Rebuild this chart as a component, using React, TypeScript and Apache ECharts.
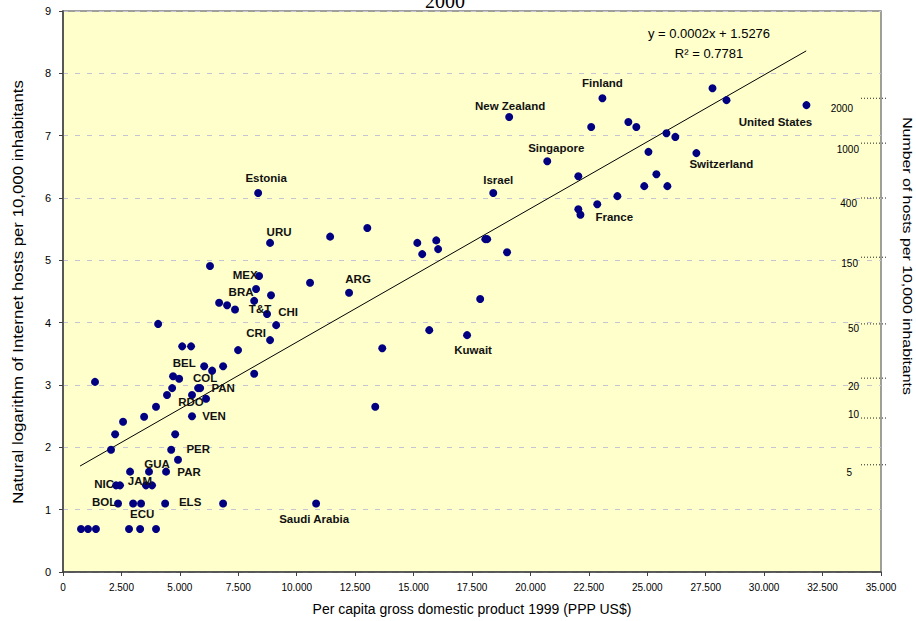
import React, { useEffect, useRef } from "react";
import * as echarts from "echarts";

// GDP per capita 1999 (PPP US$)
const gdp = [
  770, 1070, 1410, 2825, 3300, 3980,
  2355, 3000, 3340, 4370, 6850, 10830,
  2270, 2440, 3550, 3810,
  2870, 3680, 4410, 4630, 4920, 2055,
  2230, 2570, 3470, 3980, 4450, 4670, 4710, 4970, 4800, 1370,
  4070, 5100, 5480, 5520, 5520, 5780, 5870, 6120, 6040, 6380,
  6850, 7490, 8180, 8860, 9120, 8730, 8180, 8900, 8260, 6680,
  7020, 7360, 6290, 8390, 8350, 8860, 11430, 13020, 10570, 12240,
  15160, 15370, 15970, 16050, 18070, 18150, 19000, 17850, 15670, 17290,
  13660, 13360, 23080, 22600, 24190, 24530, 27790, 28390, 31810, 25820,
  26200, 25050, 27100, 20720, 22050, 25390, 24870, 25860, 23720, 22860,
  22050, 22140, 19090, 18410,
];
// Natural log of Internet hosts per 10,000 inhabitants
const lnHosts = [
  0.69, 0.69, 0.69, 0.69, 0.69, 0.69,
  1.10, 1.10, 1.10, 1.10, 1.10, 1.10,
  1.39, 1.39, 1.39, 1.39,
  1.61, 1.61, 1.61, 1.96, 1.80, 1.96,
  2.21, 2.41, 2.49, 2.65, 2.84, 2.95, 3.14, 3.10, 2.21, 3.05,
  3.98, 3.62, 3.62, 2.50, 2.84, 2.95, 2.95, 2.78, 3.30, 3.23,
  3.30, 3.56, 3.18, 3.72, 3.96, 4.14, 4.35, 4.44, 4.54, 4.32,
  4.28, 4.21, 4.91, 4.75, 6.08, 5.28, 5.38, 5.52, 4.64, 4.48,
  5.28, 5.10, 5.32, 5.18, 5.34, 5.34, 5.13, 4.38, 3.88, 3.80,
  3.59, 2.65, 7.60, 7.14, 7.22, 7.14, 7.76, 7.57, 7.49, 7.04,
  6.98, 6.74, 6.72, 6.59, 6.35, 6.38, 6.19, 6.19, 6.03, 5.90,
  5.82, 5.73, 7.30, 6.08,
];
// Country labels ('' = unlabeled)
const countryNames = [
  "", "", "", "", "", "",
  "BOL", "ECU", "", "ELS", "", "Saudi Arabia",
  "NIC", "", "JAM", "",
  "", "GUA", "PAR", "PER", "", "",
  "", "", "", "", "", "", "", "", "", "",
  "", "", "", "VEN", "", "COL", "PAN", "RDO", "BEL", "",
  "", "", "", "CRI", "CHI", "T&T", "", "", "BRA", "",
  "", "", "", "MEX", "Estonia", "URU", "", "", "", "ARG",
  "", "", "", "", "", "", "", "", "", "Kuwait",
  "", "", "Finland", "", "", "", "", "", "United States", "",
  "", "", "Switzerland", "Singapore", "", "", "", "", "", "France",
  "", "", "New Zealand", "Israel",
];
// Trend line end points
const trendX = [730, 31800];
const trendY = [1.7, 8.36];
const equationText = "y = 0.0002x + 1.5276";
const r2Text = "R² = 0.7781";
const xTitle = "Per capita gross domestic product 1999 (PPP US$)";
const yTitle = "Natural logarithm of Internet hosts per 10,000 inhabitants";
const y2Title = "Number of hosts per 10,000 inhabitants";
// Secondary scale (hosts per 10,000 inhabitants) and its ln position
const hostTickLabels = ["2000", "1000", "400", "150", "50", "20", "10", "5"];
const hostTickLn = [7.6, 6.88, 6.0, 5.05, 3.98, 3.11, 2.47, 1.72];

// label placement (pixels)
const labelOffsets: Record<string, [number, number]> = {
  BOL: [-14, -1], ECU: [9, 11], ELS: [25, -1], "Saudi Arabia": [-2, 16],
  NIC: [-12, -1], JAM: [-6, -4], GUA: [8, -8], PAR: [23, 0], PER: [27, -1],
  VEN: [22, 0], COL: [7, -10], PAN: [23, 0], RDO: [-15, 3], BEL: [-20, -3],
  CRI: [-14, -7], CHI: [12, -13], "T&T": [-7, -5], BRA: [-15, 3], MEX: [-14, -1],
  Estonia: [8, -15], URU: [9, -11], ARG: [9, -14], Kuwait: [6, 15],
  Finland: [0, -15], "United States": [-31, 17], Switzerland: [25, 11],
  Singapore: [9, -13], France: [17, 13], "New Zealand": [1, -11], Israel: [5, -13],
};
const hostTickTextDy = [10, 6, 5, 6, 5, 8, -4, 8];
const hostTickTextX = [853, 859, 857, 858, 859, 859, 859, 852];

const W = 916;
const H = 621;
const G_LEFT = 63;
const G_RIGHT = 881;
const G_TOP = 11;
const G_BOTTOM = 572;
const Y_MAX = 9;

function fmtThousands(v: number) {
  const s = String(Math.round(v));
  return s.replace(/\B(?=(\d{3})+(?!\d))/g, ".");
}

export default function App() {
  const ref = useRef<HTMLDivElement>(null);
  useEffect(() => {
    if (!ref.current) return;
    const chart = echarts.init(ref.current, null, { renderer: "svg" });
    const font = "Liberation Sans, Arial, sans-serif";
    const yPix = (v: number) => G_TOP + ((Y_MAX - v) / Y_MAX) * (G_BOTTOM - G_TOP);

    const graphics: any[] = [
      {
        type: "text",
        x: 445,
        y: 1,
        style: {
          text: "2000",
          font: "20px 'Liberation Serif', 'Times New Roman', serif",
          fill: "#000",
          align: "center",
          verticalAlign: "middle",
        },
      },
      {
        type: "text",
        x: 709,
        y: 33,
        style: { text: equationText, font: `13px ${font}`, fill: "#000", align: "center", verticalAlign: "middle" },
      },
      {
        type: "text",
        x: 709,
        y: 53,
        style: { text: r2Text, font: `13px ${font}`, fill: "#000", align: "center", verticalAlign: "middle" },
      },
      {
        type: "text",
        x: 18,
        y: 292,
        rotation: Math.PI / 2,
        scaleX: 1.2,
        style: { text: yTitle, font: `14px ${font}`, fill: "#000", align: "center", verticalAlign: "middle" },
      },
      {
        type: "text",
        x: 907,
        y: 256,
        rotation: -Math.PI / 2,
        scaleX: 1.22,
        style: { text: y2Title, font: `13px ${font}`, fill: "#000", align: "center", verticalAlign: "middle" },
      },
    ];
    hostTickLabels.forEach((t, i) => {
      const py = yPix(hostTickLn[i]);
      graphics.push({
        type: "line",
        shape: { x1: 861, y1: py, x2: 887, y2: py },
        style: { stroke: "#222", lineWidth: 1, lineDash: [1, 2] },
        z: 10,
      });
      graphics.push({
        type: "text",
        x: hostTickTextX[i],
        y: py + hostTickTextDy[i],
        style: { text: t, font: `10px ${font}`, fill: "#000", align: "right", verticalAlign: "middle" },
        z: 10,
      });
    });

    const option: any = {
      animation: false,
      backgroundColor: "#fff",
      grid: {
        left: G_LEFT,
        right: W - G_RIGHT,
        top: G_TOP,
        bottom: H - G_BOTTOM,
        show: true,
        backgroundColor: "#FFFFCC",
        borderColor: "#808080",
        borderWidth: 1.5,
      },
      xAxis: {
        type: "value",
        min: 0,
        max: 35000,
        interval: 2500,
        name: xTitle,
        nameLocation: "middle",
        nameGap: 30,
        nameTextStyle: { fontFamily: font, fontSize: 14, color: "#000" },
        axisLine: { show: true, lineStyle: { color: "#404040", width: 1.5 } },
        axisTick: { show: true, length: 4, lineStyle: { color: "#404040" } },
        axisLabel: { fontFamily: font, fontSize: 10, color: "#000", margin: 10, formatter: (v: number) => fmtThousands(v) },
        splitLine: { show: false },
      },
      yAxis: {
        type: "value",
        min: 0,
        max: 9,
        interval: 1,
        axisLine: { show: true, lineStyle: { color: "#404040", width: 1.5 } },
        axisTick: { show: true, length: 4, lineStyle: { color: "#404040" } },
        axisLabel: { fontFamily: font, fontSize: 11, color: "#000", margin: 12 },
        splitLine: { show: true, lineStyle: { color: "#C4C4D4", type: [5, 7], width: 1 } },
      },
      series: [
        {
          type: "line",
          data: trendX.map((x, i) => [x, trendY[i]]),
          symbol: "none",
          lineStyle: { color: "#000", width: 1 },
          silent: true,
          z: 2,
        },
        {
          type: "scatter",
          symbolSize: 8,
          itemStyle: { color: "#000080", opacity: 1 },
          z: 3,
          data: gdp.map((x, i) => {
            const n = countryNames[i];
            const d: any = { value: [x, lnHosts[i]] };
            if (n) {
              d.label = {
                show: true,
                formatter: n,
                position: "inside",
                offset: labelOffsets[n] || [0, 0],
                color: "#111",
                fontWeight: "bold",
                fontFamily: font,
                fontSize: 11.5,
                align: "center",
                verticalAlign: "middle",
              };
            }
            return d;
          }),
        },
      ],
      graphic: graphics,
    };
    chart.setOption(option);
    return () => chart.dispose();
  }, []);
  return <div ref={ref} style={{ position: "fixed", left: 0, top: 0, width: W, height: H }} />;
}
